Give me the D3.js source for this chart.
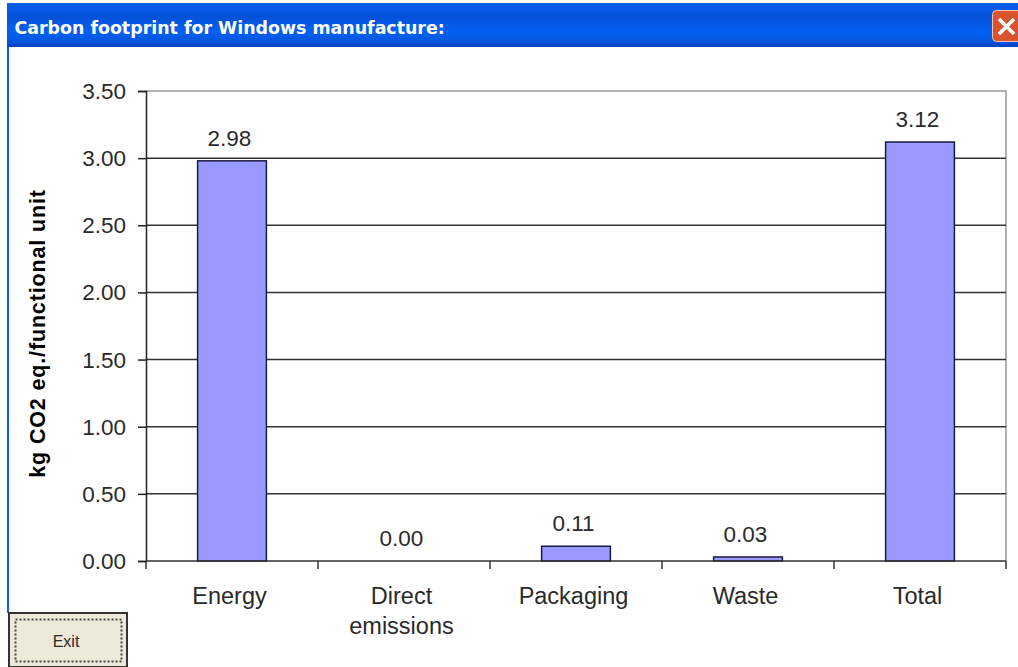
<!DOCTYPE html>
<html>
<head>
<meta charset="utf-8">
<script src="https://cdn.jsdelivr.net/npm/d3@7"></script>
<style>
    html, body { margin: 0; padding: 0; background: #fff; overflow: hidden; }
    svg { display: block; }
    text { font-family: "Liberation Sans", Arial, sans-serif; fill: #2a2a2a; }
    .tickLabel { font-size: 22.5px; }
    .xLabel { font-size: 23.5px; }
    .numbers { font-size: 22.5px; }
    .axisTitle { font-size: 21.5px; font-weight: bold; fill: #000; letter-spacing: 0.85px; }
    .windowTitle { font-family: "DejaVu Sans", sans-serif; font-size: 17.4px; font-weight: bold; fill: #fff; }
    .axis path, .axis line { stroke: #222; stroke-width: 1.5; }
    .grid { stroke: #333; stroke-width: 1.5; }
</style>
</head>
<body>
<script>
//chart data
var categories = ["Energy", "Direct emissions", "Packaging", "Waste", "Total"];
var values = [2.98, 0.00, 0.11, 0.03, 3.12];
var yTicks = [0, 0.5, 1, 1.5, 2, 2.5, 3, 3.5];

//frame dimensions
var width = 1018,
    height = 667,
    plot = {left: 146, right: 1006, top: 91, bottom: 561};

var svg = d3.select("body")
    .append("svg")
    .attr("width", width)
    .attr("height", height);

//window title bar
var gradient = svg.append("defs").append("linearGradient")
    .attr("id", "titleBar")
    .attr("x1", 0).attr("x2", 0).attr("y1", 0).attr("y2", 1);
[[0, "#0a5fe0"], [0.12, "#0a5ae8"], [0.3, "#0450d8"], [0.65, "#0461f2"], [0.88, "#0355e0"], [1, "#0a3fc0"]].forEach(function(s) {
    gradient.append("stop").attr("offset", s[0]).attr("stop-color", s[1]);
});

svg.append("rect")
    .attr("x", 7).attr("y", 3)
    .attr("width", width - 7).attr("height", 44)
    .attr("fill", "url(#titleBar)");

svg.append("rect")
    .attr("x", 7).attr("y", 47)
    .attr("width", 2).attr("height", 566)
    .attr("fill", "#0a5fe8");

svg.append("text")
    .attr("class", "windowTitle")
    .attr("x", 14.5).attr("y", 34)
    .text("Carbon footprint for Windows manufacture:");

//close button
svg.append("rect")
    .attr("x", 992.5).attr("y", 10.5)
    .attr("width", 30).attr("height", 31)
    .attr("rx", 4)
    .attr("fill", "#d9532c")
    .attr("stroke", "#f3c4b0");

svg.append("path")
    .attr("d", "M999,19 L1014,34 M1014,19 L999,34")
    .attr("stroke", "#fff")
    .attr("stroke-width", 3.6)
    .attr("fill", "none");

//scales
var xScale = d3.scaleBand()
    .domain(categories)
    .range([plot.left, plot.right]);

var yScale = d3.scaleLinear()
    .domain([0, 3.5])
    .range([plot.bottom, plot.top]);

var barWidth = xScale.bandwidth() * 0.4;

//plot frame
svg.append("path")
    .attr("d", "M" + plot.left + "," + plot.top + "H" + plot.right + "V" + plot.bottom)
    .attr("fill", "none")
    .attr("stroke", "#999")
    .attr("stroke-width", 1.5);

//gridlines
svg.selectAll(".grid")
    .data(yTicks.filter(function(d) { return d > 0 && d < 3.5; }))
    .enter()
    .append("line")
    .attr("class", "grid")
    .attr("x1", plot.left)
    .attr("x2", plot.right)
    .attr("y1", function(d) { return yScale(d); })
    .attr("y2", function(d) { return yScale(d); });

//bars
svg.selectAll(".bar")
    .data(values)
    .enter()
    .append("rect")
    .attr("class", "bar")
    .attr("x", function(d, i) { return xScale(categories[i]) + (xScale.bandwidth() - barWidth) / 2; })
    .attr("y", function(d) { return yScale(d); })
    .attr("width", barWidth)
    .attr("height", function(d) { return yScale(0) - yScale(d); })
    .attr("fill", "#9999ff")
    .attr("stroke", function(d) { return d > 0 ? "#1a1a40" : "none"; })
    .attr("stroke-width", 1.5);

//value labels
svg.selectAll(".numbers")
    .data(values)
    .enter()
    .append("text")
    .attr("class", "numbers")
    .attr("text-anchor", "middle")
    .attr("x", function(d, i) { return xScale(categories[i]) + xScale.bandwidth() / 2 - 2.5; })
    .attr("y", function(d) { return yScale(d) - 15; })
    .text(function(d) { return d.toFixed(2); });

//axes
var yAxis = d3.axisLeft(yScale)
    .tickValues(yTicks)
    .tickSize(8)
    .tickPadding(12)
    .tickFormat(d3.format(".2f"));

var yG = svg.append("g")
    .attr("class", "axis")
    .attr("transform", "translate(" + plot.left + ",0)")
    .call(yAxis);
yG.selectAll("text").attr("class", "tickLabel").attr("dy", "0.33em");

svg.append("line")
    .attr("class", "grid")
    .attr("x1", plot.left).attr("x2", plot.right)
    .attr("y1", plot.bottom).attr("y2", plot.bottom);

//x ticks sit on the band edges
svg.selectAll(".xTick")
    .data(d3.range(categories.length + 1))
    .enter()
    .append("line")
    .attr("class", "grid xTick")
    .attr("x1", function(d) { return plot.left + d * xScale.step(); })
    .attr("x2", function(d) { return plot.left + d * xScale.step(); })
    .attr("y1", plot.bottom)
    .attr("y2", plot.bottom + 8);

//category labels, wrapped on spaces only where the original wraps
var xLabels = svg.selectAll(".xLabel")
    .data(categories)
    .enter()
    .append("text")
    .attr("class", "xLabel")
    .attr("text-anchor", "middle")
    .attr("y", 604);

xLabels.each(function(d) {
    var label = d3.select(this);
    d.split(" ").forEach(function(word, i) {
        label.append("tspan")
            .attr("x", xScale(d) + xScale.bandwidth() / 2 - 2.5)
            .attr("dy", i === 0 ? 0 : 30)
            .text(word);
    });
});

//axis title
svg.append("text")
    .attr("class", "axisTitle")
    .attr("text-anchor", "middle")
    .attr("transform", "translate(45,333.5) rotate(-90)")
    .text("kg CO2 eq./functional unit");

//exit button
svg.append("rect")
    .attr("x", 9).attr("y", 613)
    .attr("width", 118).attr("height", 54)
    .attr("fill", "#ece9d8")
    .attr("stroke", "#333")
    .attr("stroke-width", 2);

svg.append("rect")
    .attr("x", 15.5).attr("y", 619.5)
    .attr("width", 106).attr("height", 42)
    .attr("fill", "none")
    .attr("stroke", "#444")
    .attr("stroke-width", 2)
    .attr("stroke-dasharray", "2,2");

svg.append("text")
    .attr("x", 66).attr("y", 647)
    .attr("text-anchor", "middle")
    .style("font-size", "16px")
    .text("Exit");
</script>
</body>
</html>
